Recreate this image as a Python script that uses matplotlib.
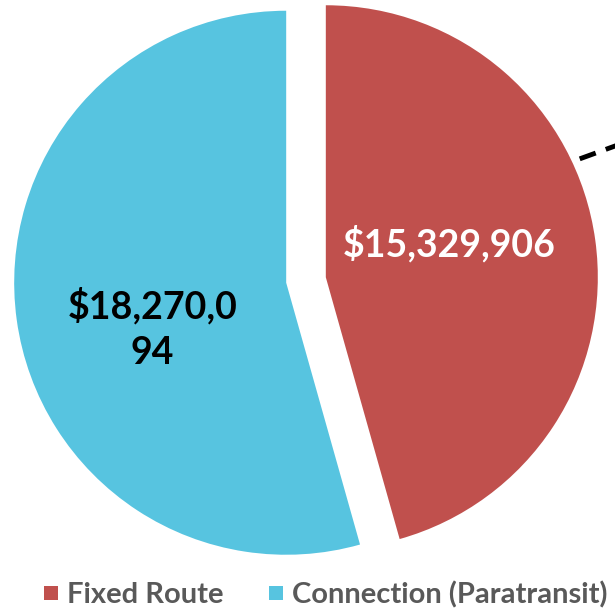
import numpy as np
import matplotlib.pyplot as plt
from matplotlib.lines import Line2D

# ----- data -----
categories = ["Fixed Route", "Connection (Paratransit)"]
values = [15329906, 18270094]
value_labels = ["$15,329,906", "$18,270,0\n94"]
colors = ["#C0504D", "#57C4E0"]
label_colors = ["white", "black"]

plt.rcParams['font.family'] = ['Lato', 'DejaVu Sans']

fig = plt.figure(figsize=(6.15, 6.13), dpi=100)
ax = fig.add_axes([0, 0, 1, 1])

R = 272
# explode is in data units here (1 unit = 1 px)
wedges, _ = ax.pie(values, colors=colors, startangle=90, counterclock=False,
                   explode=[20, 20], radius=R, center=(306, 333),
                   wedgeprops=dict(linewidth=0), frame=True)
ax.set_xlim(0, 615)
ax.set_ylim(0, 613)
ax.axis("off")

# value labels (angle in degrees, radius fraction)
label_pos = [(15, 0.47), (199, 0.52)]
for w, txt, col, (ang, rf) in zip(wedges, value_labels, label_colors, label_pos):
    cx, cy = w.center
    x = cx + rf * w.r * np.cos(np.radians(ang))
    y = cy + rf * w.r * np.sin(np.radians(ang))
    ax.text(x, y, txt, ha="center", va="center", color=col,
            fontsize=27, fontweight="bold", linespacing=1.42)

# dashed leader line leaving the red slice
w = wedges[0]
cx, cy = w.center
a = np.radians(25)
x0, y0 = cx + 1.03 * w.r * np.cos(a), cy + 1.03 * w.r * np.sin(a)
d = np.radians(20)
ax.plot([x0, x0 + 80 * np.cos(d)], [y0, y0 + 80 * np.sin(d)], color="black",
        lw=3.5, dashes=(3.5, 2.2), solid_capstyle="butt", clip_on=False)

# legend
handles = [Line2D([], [], marker="s", linestyle="none", markersize=9.5,
                  markerfacecolor=c, markeredgewidth=0) for c in colors]
leg = ax.legend(handles, categories, loc="lower center", bbox_to_anchor=(0.528, -0.035),
                ncol=2, frameon=False, fontsize=21, handletextpad=0.25,
                columnspacing=1.5, handlelength=0.6)
for t in leg.get_texts():
    t.set_color("#595959")
    t.set_fontweight("bold")

plt.savefig("out.png", dpi=100)
